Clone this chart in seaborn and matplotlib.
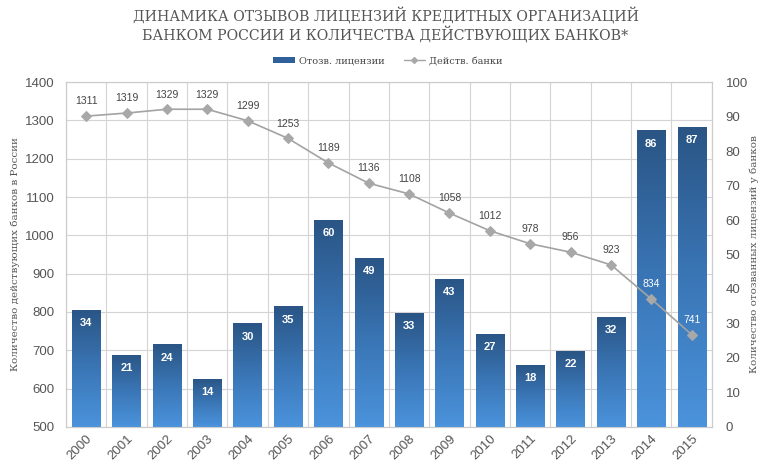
import numpy as np
import pandas as pd
import matplotlib
matplotlib.use("Agg")
import matplotlib.pyplot as plt
import seaborn as sns
from matplotlib.colors import LinearSegmentedColormap
from matplotlib.lines import Line2D
from matplotlib.patches import Patch

years = ["2000", "2001", "2002", "2003", "2004", "2005", "2006", "2007",
         "2008", "2009", "2010", "2011", "2012", "2013", "2014", "2015"]
revoked = [34, 21, 24, 14, 30, 35, 60, 49, 33, 43, 27, 18, 22, 32, 86, 87]
banks = [1311, 1319, 1329, 1329, 1299, 1253, 1189, 1136, 1108, 1058,
         1012, 978, 956, 923, 834, 741]
title = "ДИНАМИКА ОТЗЫВОВ ЛИЦЕНЗИЙ КРЕДИТНЫХ ОРГАНИЗАЦИЙ\nБАНКОМ РОССИИ И КОЛИЧЕСТВА ДЕЙСТВУЮЩИХ БАНКОВ*"
left_label = "Количество действующих банков в России"
right_label = "Количество отозванных лицензий у банков"
legend_bar = "Отозв. лицензии"
legend_line = "Действ. банки"

df = pd.DataFrame({"year": years, "revoked": revoked, "banks": banks})
df["x"] = np.arange(len(years))

sns.set_theme(style="white")
plt.rcParams["font.family"] = ["Liberation Sans", "DejaVu Sans"]

fig = plt.figure(figsize=(7.68, 4.73), dpi=100)
fig.patch.set_facecolor("white")
ax_bar = fig.add_axes([0.0859, 0.0973, 0.841, 0.7293])
ax_line = ax_bar.twinx()

grey_txt = "#555555"
LMIN, LMAX = 500, 1400

# bars on the right axis
sns.barplot(data=df, x="year", y="revoked", ax=ax_bar, width=0.7,
            color="#3a78bb", saturation=1, zorder=3)
ax_bar.set_facecolor("white")

# gradient fill for bars
cmap = LinearSegmentedColormap.from_list("g", ["#4b93dc", "#3a76b6", "#2a5585"])
grad = np.linspace(0, 1, 256).reshape(-1, 1)
for p in ax_bar.patches:
    x0, y0 = p.get_x(), p.get_y()
    w, h = p.get_width(), p.get_height()
    p.set_facecolor("none")
    p.set_edgecolor("none")
    im = ax_bar.imshow(grad, cmap=cmap, origin="lower", aspect="auto",
                       extent=[x0, x0 + w, y0, y0 + h], zorder=3)
    im.set_clip_path(p)
ax_bar.set_xlim(-0.5, len(years) - 0.5)
ax_bar.set_ylim(0, 100)

# grid (aligned to left axis ticks)
for t in range(LMIN, LMAX + 1, 100):
    ax_bar.axhline((t - LMIN) / (LMAX - LMIN) * 100, color="#d4d4d4", lw=0.8, zorder=1)
for i in range(len(years) + 1):
    ax_bar.axvline(i - 0.5, color="#d4d4d4", lw=0.8, zorder=1)

# bar labels
for xi, v in zip(df["x"], revoked):
    ax_bar.annotate(str(v), (xi, v), xytext=(0, -6), textcoords="offset points",
                    ha="center", va="top", color="white", fontsize=8,
                    fontweight="bold", zorder=5)

ax_bar.yaxis.tick_right()
ax_bar.yaxis.set_label_position("right")
ax_bar.set_yticks(range(0, 101, 10))
ax_bar.tick_params(axis="y", labelsize=9.5, labelcolor=grey_txt, length=0, pad=10)
ax_bar.set_ylabel(right_label, family="DejaVu Serif", fontsize=7.5, color=grey_txt,
                  rotation=90, labelpad=1)
ax_bar.set_xlabel("")
ax_bar.set_xticks(df["x"])
ax_bar.set_xticklabels(years, rotation=45, ha="right", rotation_mode="anchor",
                       fontsize=9.5, color=grey_txt)
ax_bar.tick_params(axis="x", length=0, pad=4)

# line on the left axis
ax_line.set_zorder(ax_bar.get_zorder() + 1)
ax_line.patch.set_visible(False)
sns.lineplot(data=df, x="x", y="banks", ax=ax_line, color="#a3a3a3", lw=1.2,
             marker="D", markersize=5.5, markerfacecolor="#a8a8a8",
             markeredgecolor="#a8a8a8")
ax_line.set_ylim(LMIN, LMAX)
ax_line.set_xlim(-0.5, len(years) - 0.5)
ax_line.yaxis.tick_left()
ax_line.yaxis.set_label_position("left")
ax_line.set_yticks(range(LMIN, LMAX + 1, 100))
ax_line.tick_params(axis="y", labelsize=9.5, labelcolor=grey_txt, length=0, pad=8)
ax_line.set_ylabel(left_label, family="DejaVu Serif", fontsize=7.5, color=grey_txt,
                   labelpad=4)
ax_line.set_xlabel("")
for i, (xi, v) in enumerate(zip(df["x"], banks)):
    col = "white" if i >= 14 else "#444444"
    ax_line.annotate(str(v), (xi, v), xytext=(0, 7), textcoords="offset points",
                     ha="center", va="bottom", color=col, fontsize=7.5)

for a in (ax_bar, ax_line):
    for s in a.spines.values():
        s.set_color("#cccccc")
        s.set_linewidth(0.8)

fig.text(0.502, 0.985, title, ha="center", va="top", family="DejaVu Serif",
         fontsize=10.2, color="#555555", linespacing=1.2)

handles = [Patch(facecolor="#2f609a", edgecolor="none"),
           Line2D([0], [0], color="#a3a3a3", lw=1, marker="D", markersize=3,
                  markerfacecolor="#a8a8a8", markeredgecolor="#a8a8a8")]
fig.legend(handles, [legend_bar, legend_line], loc="center", bbox_to_anchor=(0.505, 0.871),
           ncol=2, frameon=False, prop={"family": "DejaVu Serif", "size": 7},
           handlelength=2.2, handleheight=0.5, columnspacing=2.0, handletextpad=0.4,
           labelcolor="#444444")

fig.savefig("out.png", dpi=100)
